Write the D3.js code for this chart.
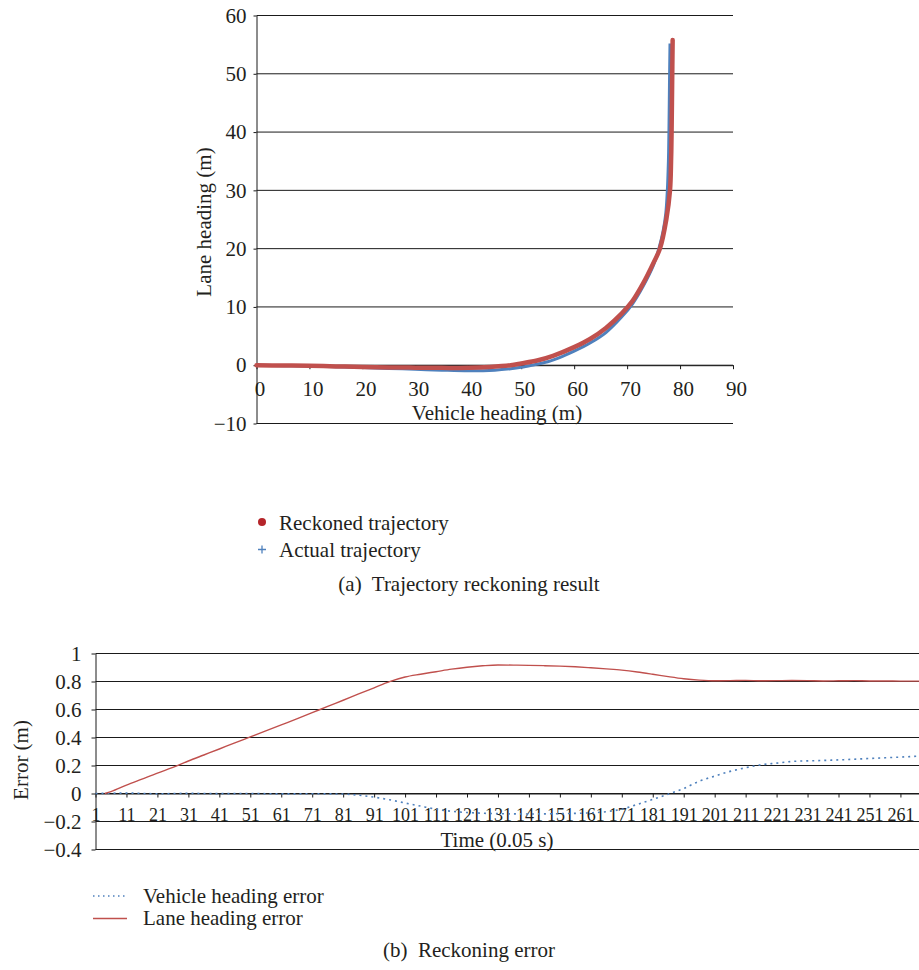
<!DOCTYPE html>
<html>
<head>
<meta charset="utf-8">
<script src="https://cdn.jsdelivr.net/npm/d3@7"></script>
<style>
  body { margin: 0; background: #fff; }
  svg text { font-family: "Liberation Serif", "Times New Roman", serif !important; fill: #231f20; }
  .pre { white-space: pre; }
</style>
</head>
<body>
<svg id="svg" width="919" height="970" font-family="Liberation Serif, serif"></svg>
<script>
// (a) trajectory, [vehicle heading m, lane heading m]
const reckonedTrajectory = [
  [0, 0], [5, -0.05], [10, -0.1], [15, -0.2], [20, -0.3], [25, -0.38], [30, -0.42],
  [35, -0.45], [40, -0.45], [44, -0.3], [48, 0], [50, 0.3], [53, 0.8], [56, 1.6],
  [60, 3.1], [63, 4.5], [66, 6.4], [69, 8.9], [71, 11], [73, 14], [75, 17.6],
  [76.2, 20], [77.4, 25], [78.1, 30], [78.3, 35], [78.4, 40], [78.5, 48], [78.6, 55.8]
];
const actualTrajectory = [
  [0, 0], [5, -0.08], [10, -0.15], [15, -0.25], [20, -0.4], [25, -0.55], [30, -0.7],
  [35, -0.85], [40, -0.95], [45, -0.85], [48, -0.6], [50, -0.35], [52, 0], [55, 0.6],
  [58, 1.6], [60, 2.4], [63, 3.8], [66, 5.6], [69, 8.3], [71, 10.5], [73, 13.5],
  [75, 17.2], [76, 20], [76.8, 23], [77.3, 26], [77.6, 30], [77.8, 35], [77.9, 40],
  [78, 48], [78.1, 55.2]
];
const trajXTicks = [0, 10, 20, 30, 40, 50, 60, 70, 80, 90];
const trajYTicks = [-10, 0, 10, 20, 30, 40, 50, 60];

// (b) error, [time index, error m]
const laneError = [
  [4, 0], [6, 0.014], [11, 0.06], [16, 0.103], [21, 0.146], [26, 0.186], [31, 0.232],
  [36, 0.275], [41, 0.318], [46, 0.362], [51, 0.404], [56, 0.447], [61, 0.49],
  [66, 0.533], [71, 0.577], [76, 0.622], [81, 0.666], [86, 0.711], [91, 0.755],
  [96, 0.799], [101, 0.832], [106, 0.852], [111, 0.87], [116, 0.888], [121, 0.902],
  [126, 0.912], [131, 0.918], [136, 0.917], [141, 0.915], [146, 0.913], [151, 0.91],
  [156, 0.905], [161, 0.898], [166, 0.89], [171, 0.881], [176, 0.868], [181, 0.852],
  [186, 0.835], [191, 0.82], [196, 0.81], [201, 0.805], [206, 0.806], [211, 0.808],
  [216, 0.805], [221, 0.806], [226, 0.807], [231, 0.806], [236, 0.804], [241, 0.805],
  [246, 0.806], [251, 0.804], [256, 0.804], [261, 0.803], [267, 0.803]
];
const vehicleError = [
  [1, 0], [11, 0.003], [21, -0.002], [31, 0.001], [41, -0.001], [51, 0], [61, -0.003],
  [71, -0.002], [81, -0.004], [86, -0.012], [91, -0.026], [96, -0.045], [101, -0.068],
  [106, -0.09], [111, -0.112], [116, -0.127], [121, -0.136], [126, -0.141], [131, -0.144],
  [141, -0.146], [151, -0.144], [161, -0.138], [166, -0.13], [171, -0.112], [176, -0.078],
  [181, -0.042], [186, -0.005], [191, 0.036], [196, 0.088], [201, 0.124], [206, 0.158],
  [211, 0.184], [216, 0.205], [221, 0.217], [226, 0.229], [231, 0.233], [236, 0.236],
  [241, 0.24], [246, 0.245], [251, 0.25], [256, 0.255], [261, 0.26], [267, 0.267]
];
const timeTicks = d3.range(1, 262, 10);
const errYTicks = [-0.4, -0.2, 0, 0.2, 0.4, 0.6, 0.8, 1];

const red = '#c0504d';
const blue = '#4f81bd';
const serif = 'Liberation Serif, serif';
const svg = d3.select('#svg');

// ---------- (a) ----------
const ax = d3.scaleLinear().domain([0, 90]).range([256.5, 733]);
const ay = d3.scaleLinear().domain([-10, 60]).range([423.5, 15.5]);
const ga = svg.append('g');

ga.selectAll('.grid-a')
  .data(trajYTicks)
  .join('line')
  .attr('class', 'grid-a')
  .attr('x1', ax(0)).attr('x2', ax(90))
  .attr('y1', d => ay(d)).attr('y2', d => ay(d))
  .attr('stroke', '#1a1a1a').attr('stroke-width', 1);

const axA = ga.append('g')
  .attr('transform', `translate(0,${ay(0)})`)
  .call(d3.axisBottom(ax).tickValues(trajXTicks).tickSize(4).tickPadding(12).tickSizeOuter(0));
axA.selectAll('text').attr('dx', 3);

ga.append('g')
  .attr('transform', `translate(${ax(0)},0)`)
  .call(d3.axisLeft(ay).tickValues(trajYTicks).tickSize(3).tickPadding(7).tickSizeOuter(0));

ga.selectAll('.domain, .tick line').attr('stroke', '#1a1a1a');
ga.selectAll('.tick text').style('font-size', '21px');

ga.append('text')
  .attr('x', 497).attr('y', 420)
  .attr('text-anchor', 'middle')
  .style('font-size', '21px')
  .text('Vehicle heading (m)');

ga.append('text')
  .attr('transform', 'translate(211,222) rotate(-90)')
  .attr('text-anchor', 'middle')
  .style('font-size', '21px')
  .text('Lane heading (m)');

const trajLine = d3.line().x(d => ax(d[0])).y(d => ay(d[1])).curve(d3.curveCatmullRom);

ga.append('path')
  .datum(actualTrajectory)
  .attr('d', trajLine)
  .attr('fill', 'none')
  .attr('stroke', blue)
  .attr('stroke-width', 3);

ga.append('path')
  .datum(reckonedTrajectory)
  .attr('d', trajLine)
  .attr('fill', 'none')
  .attr('stroke', red)
  .attr('stroke-width', 4.5)
  .attr('stroke-linecap', 'round');

// legend (a)
ga.append('circle').attr('cx', 262).attr('cy', 522).attr('r', 4).attr('fill', '#b5252a');
ga.append('text').attr('x', 279).attr('y', 523).attr('dy', '0.35em').style('font-size', '21px')
  .text('Reckoned trajectory');
ga.append('path').attr('d', 'M258,549.5h8M262,545.5v8').attr('stroke', blue).attr('stroke-width', 1.3);
ga.append('text').attr('x', 279).attr('y', 550).attr('dy', '0.35em').style('font-size', '21px')
  .text('Actual trajectory');

ga.append('text').attr('class', 'pre')
  .attr('x', 469).attr('y', 584).attr('dy', '0.35em')
  .attr('text-anchor', 'middle')
  .style('font-size', '21px')
  .text('(a)  Trajectory reckoning result');

// ---------- (b) ----------
const bx = d3.scaleLinear().domain([1, 267]).range([95.5, 919]);
const by = d3.scaleLinear().domain([-0.4, 1]).range([849.5, 653.5]);
const gb = svg.append('g');

gb.selectAll('.grid-b')
  .data(errYTicks)
  .join('line')
  .attr('class', 'grid-b')
  .attr('x1', bx(1)).attr('x2', 919)
  .attr('y1', d => by(d)).attr('y2', d => by(d))
  .attr('stroke', '#1a1a1a').attr('stroke-width', 1);

const axB = gb.append('g')
  .attr('transform', `translate(0,${by(0)})`)
  .call(d3.axisBottom(bx).tickValues(timeTicks).tickFormat(d3.format('d'))
    .tickSize(4).tickPadding(11).tickSizeOuter(0));
axB.selectAll('text').style('font-size', '18px');

const ayB = gb.append('g')
  .attr('transform', `translate(${bx(1)},0)`)
  .call(d3.axisLeft(by).tickValues(errYTicks).tickFormat(d3.format('~g'))
    .tickSize(4).tickPadding(10).tickSizeOuter(0));
ayB.selectAll('text').style('font-size', '21px');

gb.selectAll('.domain, .tick line').attr('stroke', '#1a1a1a');

gb.append('text')
  .attr('class', 'pre')
  .attr('x', 497).attr('y', 847)
  .attr('text-anchor', 'middle')
  .style('font-size', '21px')
  .text('Time (0.05 s)');

gb.append('text')
  .attr('transform', 'translate(28,760) rotate(-90)')
  .attr('text-anchor', 'middle')
  .style('font-size', '21px')
  .text('Error (m)');

const errLine = d3.line().x(d => bx(d[0])).y(d => by(d[1])).curve(d3.curveMonotoneX);

gb.append('path')
  .datum(vehicleError)
  .attr('d', errLine)
  .attr('fill', 'none')
  .attr('stroke', blue)
  .attr('stroke-width', 1.6)
  .attr('stroke-dasharray', '2,4');

gb.append('path')
  .datum(laneError)
  .attr('d', errLine)
  .attr('fill', 'none')
  .attr('stroke', red)
  .attr('stroke-width', 1.4);

// legend (b)
gb.append('line').attr('x1', 93).attr('x2', 127).attr('y1', 896).attr('y2', 896)
  .attr('stroke', blue).attr('stroke-width', 1.3).attr('stroke-dasharray', '1.5,3.5');
gb.append('text').attr('x', 143).attr('y', 896).attr('dy', '0.35em').style('font-size', '21px')
  .text('Vehicle heading error');
gb.append('line').attr('x1', 93).attr('x2', 127).attr('y1', 918.5).attr('y2', 918.5)
  .attr('stroke', red).attr('stroke-width', 1.4);
gb.append('text').attr('x', 143).attr('y', 918).attr('dy', '0.35em').style('font-size', '21px')
  .text('Lane heading error');

gb.append('text').attr('class', 'pre')
  .attr('x', 469).attr('y', 950).attr('dy', '0.35em')
  .attr('text-anchor', 'middle')
  .style('font-size', '21px')
  .text('(b)  Reckoning error');

// d3 axes set a sans-serif family on their groups; force serif on every label
svg.selectAll('g').attr('font-family', serif);
svg.selectAll('text').attr('font-family', serif);
</script>
</body>
</html>
